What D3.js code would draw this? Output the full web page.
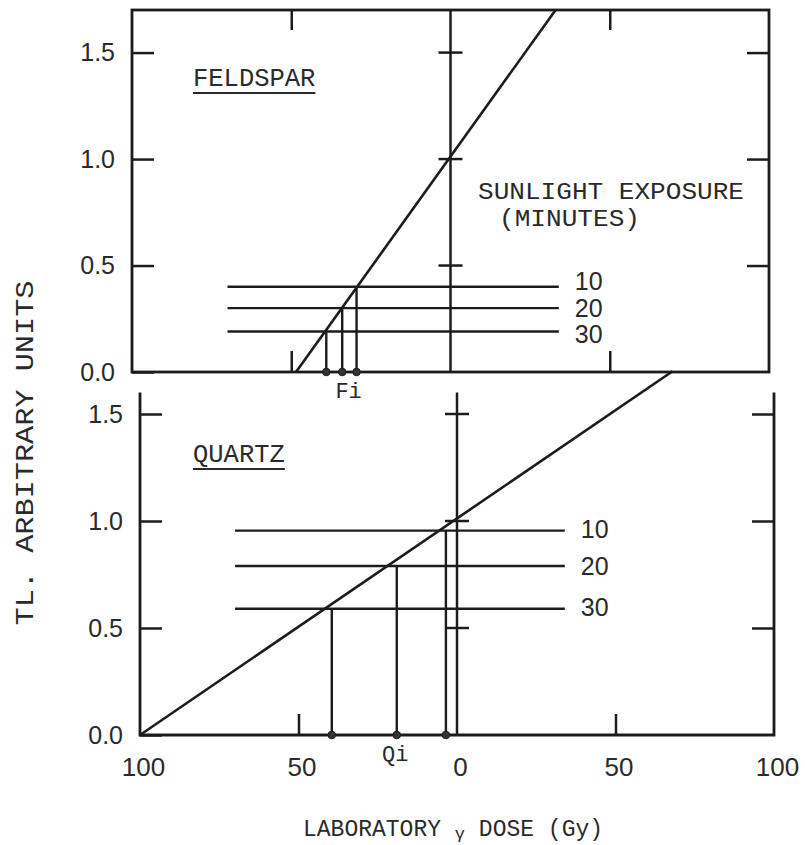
<!DOCTYPE html>
<html><head><meta charset="utf-8">
<script src="https://cdn.jsdelivr.net/npm/d3@7/dist/d3.min.js"></script>
<style>body{margin:0;background:#fff}svg{display:block}</style>
</head><body>
<svg id="c" width="805" height="845"></svg>
<script>
// ---- data ----
const xTickValues = [-100, -50, 0, 50, 100];
const xTickLabels = ["100", "50", "0", "50", "100"];
const yTickValues = [0, 0.5, 1.0, 1.5];
const yTickLabels = ["0.0", "0.5", "1.0", "1.5"];
const exposureLabels = ["10", "20", "30"];
const levelExtent = [-70, 34];
const feldsparLine = [[-48.5, 0], [33, 1.7]];
const feldsparLevels = [0.4, 0.3, 0.19];
const feldsparDrops = [-29.5, -34, -39];
const quartzLine = [[-100, 0], [68, 1.7]];
const quartzLevels = [0.955, 0.79, 0.59];
const quartzDrops = [-3.5, -19, -39.5];

const ink = "#1c1c1c";
const svg = d3.select("#c");
const numFont = "'Liberation Sans', Arial, sans-serif";
const monoFont = "'Liberation Mono', 'DejaVu Sans Mono', monospace";

// scales (the two panels are slightly offset, as in the scan)
const xTop = d3.scaleLinear().domain([-100, 100]).range([132, 769]);
const yTop = d3.scaleLinear().domain([0, 1.7]).range([372, 10]);
const xBot = d3.scaleLinear().domain([-100, 100]).range([140, 774]);
const yBot = d3.scaleLinear().domain([0, 1.5]).range([735, 414]);

const fmtY = d => yTickLabels[yTickValues.indexOf(d)];

function styleAxis(g) {
  g.select(".domain").remove();
  g.selectAll(".tick line").attr("stroke", ink).attr("stroke-width", 2.5);
  g.selectAll(".tick text").attr("fill", "#2a2a2a").attr("font-family", numFont).attr("font-size", 25);
}

function panel(x, y, opts) {
  const g = svg.append("g");
  const L = x(-100), R = x(100), B = y(0), T = y(opts.frameTop);
  if (opts.topBorder) {
    g.append("rect").attr("x", L).attr("y", T).attr("width", R - L).attr("height", B - T)
      .attr("fill", "none").attr("stroke", ink).attr("stroke-width", 2.8);
  } else {
    g.append("path").attr("d", `M${L},${T}V${B}H${R}V${T}`)
      .attr("fill", "none").attr("stroke", ink).attr("stroke-width", 2.8);
  }
  g.append("g").attr("transform", `translate(${L},0)`)
    .call(d3.axisLeft(y).tickValues(yTickValues).tickFormat(fmtY).tickSizeInner(-22).tickSizeOuter(0).tickPadding(17))
    .call(styleAxis);
  g.append("g").attr("transform", `translate(${R},0)`)
    .call(d3.axisRight(y).tickValues([0.5, 1.0, 1.5]).tickFormat("").tickSizeInner(-22).tickSizeOuter(0))
    .call(styleAxis);
  if (opts.topBorder) {
    g.append("g").attr("transform", `translate(0,${T})`)
      .call(d3.axisTop(x).tickValues([-50, 50]).tickFormat("").tickSizeInner(-20).tickSizeOuter(0))
      .call(styleAxis);
  }
  g.append("g").attr("transform", `translate(0,${B})`)
    .call(d3.axisBottom(x).tickValues([-50, 50]).tickFormat("").tickSizeInner(-21).tickSizeOuter(0))
    .call(styleAxis);
  g.append("line").attr("x1", x(0)).attr("x2", x(0)).attr("y1", T).attr("y2", B)
    .attr("stroke", ink).attr("stroke-width", 2.5);
  g.selectAll(".zt").data([0.5, 1.0, 1.5]).join("line")
    .attr("x1", x(0) - 12).attr("x2", x(0) + 12)
    .attr("y1", d => y(d)).attr("y2", d => y(d))
    .attr("stroke", ink).attr("stroke-width", 2.5);
  g.append("line")
    .attr("x1", x(opts.line[0][0])).attr("y1", y(opts.line[0][1]))
    .attr("x2", x(opts.line[1][0])).attr("y2", y(opts.line[1][1]))
    .attr("stroke", ink).attr("stroke-width", 2.6);
  g.selectAll(".lv").data(opts.levels).join("line")
    .attr("x1", x(levelExtent[0])).attr("x2", x(levelExtent[1]))
    .attr("y1", d => y(d)).attr("y2", d => y(d))
    .attr("stroke", ink).attr("stroke-width", 2.4);
  g.selectAll(".lvl").data(opts.levels).join("text")
    .attr("x", x(levelExtent[1]) + 16).attr("y", (d, i) => y(d) + opts.labelDy[i])
    .attr("dominant-baseline", "central")
    .attr("font-family", numFont).attr("font-size", 25).attr("fill", "#2a2a2a")
    .text((d, i) => exposureLabels[i]);
  g.selectAll(".dr").data(opts.drops).join("line")
    .attr("x1", d => x(d)).attr("x2", d => x(d))
    .attr("y1", (d, i) => y(opts.levels[i])).attr("y2", B)
    .attr("stroke", ink).attr("stroke-width", 2.4);
  g.selectAll(".dot").data(opts.drops).join("circle")
    .attr("cx", d => x(d)).attr("cy", B).attr("r", 3.8)
    .attr("fill", "#333").attr("stroke", ink).attr("stroke-width", 1);
  g.append("text").attr("x", x(opts.midLabelX)).attr("y", B + 26)
    .attr("text-anchor", "middle").attr("font-family", monoFont).attr("font-size", 22)
    .attr("fill", "#2a2a2a").text(opts.midLabel);
  const t = g.append("text").attr("x", 193).attr("y", opts.nameY)
    .attr("font-family", monoFont).attr("font-size", 25.5).attr("fill", "#2a2a2a").text(opts.name);
  const w = t.node().getComputedTextLength();
  g.append("line").attr("x1", 193).attr("x2", 193 + w).attr("y1", opts.nameY + 7).attr("y2", opts.nameY + 7)
    .attr("stroke", "#2a2a2a").attr("stroke-width", 2);
  return g;
}

panel(xTop, yTop, {
  frameTop: 1.7, topBorder: true, line: feldsparLine, levels: feldsparLevels, drops: feldsparDrops,
  labelDy: [-6, 0, 2], midLabel: "Fi", midLabelX: -32, name: "FELDSPAR", nameY: 86
});
panel(xBot, yBot, {
  frameTop: 1.6, topBorder: false, line: quartzLine, levels: quartzLevels, drops: quartzDrops,
  labelDy: [-2, 0, -2], midLabel: "Qi", midLabelX: -19.5, name: "QUARTZ", nameY: 462
});

svg.append("g").attr("transform", `translate(3,${yBot(0)})`)
  .call(d3.axisBottom(xBot).tickValues(xTickValues).tickFormat((d, i) => xTickLabels[i]).tickSize(0).tickPadding(23))
  .call(g => { g.select(".domain").remove(); g.selectAll("text").attr("fill", "#2a2a2a").attr("font-family", numFont).attr("font-size", 26); });

svg.append("text").attr("x", 478).attr("y", 199).attr("font-family", monoFont).attr("font-size", 23)
  .attr("textLength", 266).attr("lengthAdjust", "spacingAndGlyphs")
  .attr("fill", "#2a2a2a").text("SUNLIGHT EXPOSURE");
svg.append("text").attr("x", 499).attr("y", 226).attr("font-family", monoFont).attr("font-size", 23)
  .attr("textLength", 141).attr("lengthAdjust", "spacingAndGlyphs")
  .attr("fill", "#2a2a2a").text("(MINUTES)");

svg.append("text").attr("transform", "translate(33,453) rotate(-90)").attr("text-anchor", "middle")
  .attr("font-family", monoFont).attr("font-size", 26).attr("fill", "#2a2a2a")
  .attr("textLength", 345).attr("lengthAdjust", "spacingAndGlyphs")
  .text("TL. ARBITRARY UNITS");
const xt = svg.append("text").attr("x", 303).attr("y", 836).attr("font-family", monoFont)
  .attr("font-size", 23).attr("fill", "#2a2a2a");
xt.append("tspan").text("LABORATORY ");
xt.append("tspan").attr("font-size", 17).attr("dy", 3).text("γ");
xt.append("tspan").attr("dy", -3).text(" DOSE (Gy)");
</script>
</body></html>
